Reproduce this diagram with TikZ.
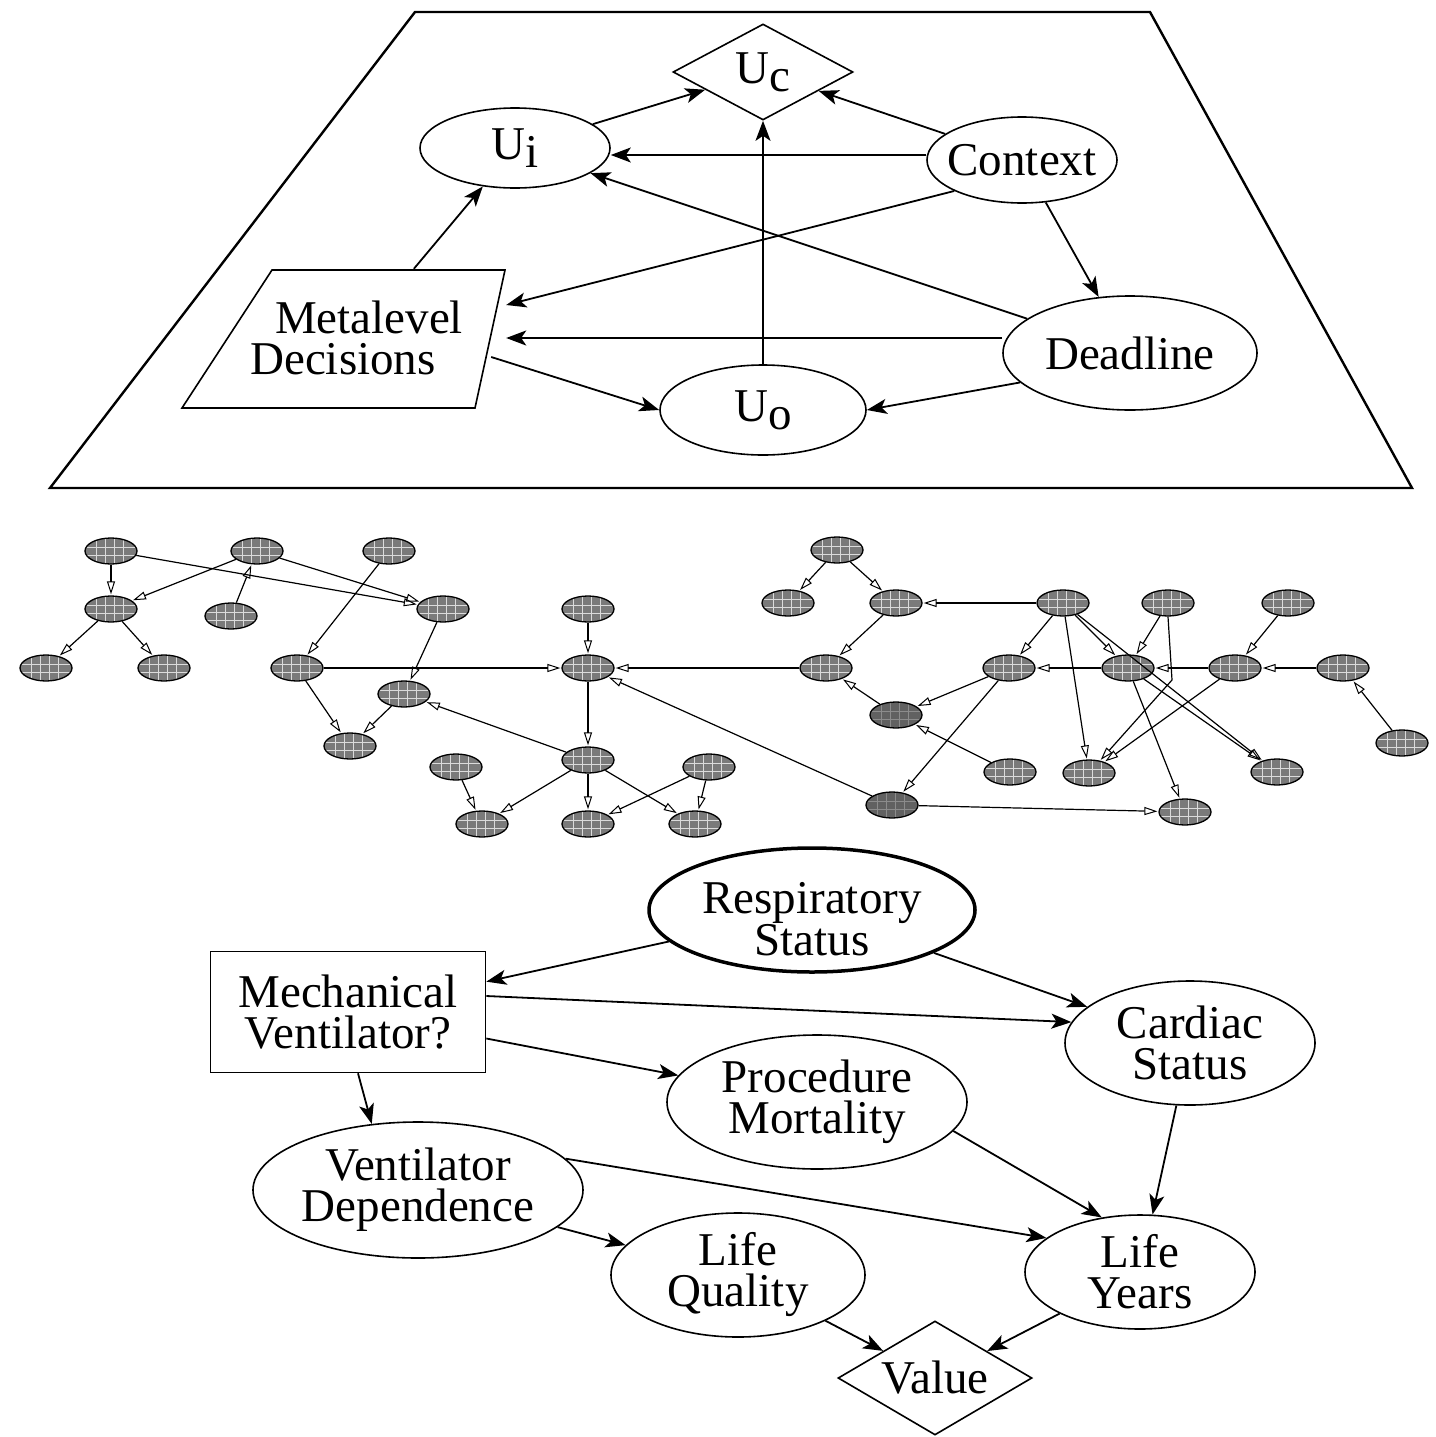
\documentclass[tikz,border=0pt]{standalone}
\usepackage{fontspec}
\setmainfont{Liberation Serif}
\usetikzlibrary{shapes.geometric,arrows.meta,calc}
\tikzset{
  lbl/.style={font=\fontsize{47}{41}\selectfont, align=center, inner sep=0pt},
  ell/.style={lbl, ellipse, draw, line width=1.6pt},
  dia/.style={lbl, diamond, draw, line width=1.6pt, aspect=1.9},
  conn/.style={line width=1.8pt, -{Stealth[length=20pt,width=15pt,inset=5pt]}},
  gridlines/.style={white!72!gray, line width=0.7pt},
  bn/.style={ellipse, draw=black, line width=1.3pt, fill=black!52, minimum width=52pt, minimum height=26pt, inner sep=0pt,
    path picture={
      \foreach \d in {-15,-6,3,12}{\draw[gridlines] ([xshift=\d pt]path picture bounding box.north) -- ([xshift=\d pt]path picture bounding box.south);}
      \foreach \d in {-4,4}{\draw[gridlines] ([yshift=\d pt]path picture bounding box.west) -- ([yshift=\d pt]path picture bounding box.east);}
    }},
  bnd/.style={bn, fill=black!62, gridlines/.style={black!45, line width=0.7pt}},
  bconn/.style={line width=1.2pt, -{Triangle[open,length=13pt,width=8pt,line width=1pt]}, shorten >=1pt}
}
\newcommand{\lowr}[1]{\raisebox{-9pt}[\height][\depth]{#1}}
\begin{document}
\begin{tikzpicture}[x=1pt,y=-1pt]
\useasboundingbox (0,0) rectangle (1435,1437);

% ---------- top panel ----------
\draw[line width=2.4pt] (415,12) -- (1150,12) -- (1412,488) -- (50,488) -- cycle;

\node[dia, minimum width=180pt, minimum height=96pt] (uc) at (763,72) {U\raisebox{-8pt}{c}};
\node[ell, minimum width=190pt, minimum height=80pt] (ui) at (515,148) {U\raisebox{-8pt}{i}};
\node[ell, inner xsep=-10pt, minimum width=190pt, minimum height=86pt] (context) at (1022,160) {Context};
\node[ell, minimum width=254pt, minimum height=114pt] (deadline) at (1130,353) {Deadline};
\node[ell, minimum width=206pt, minimum height=90pt] (uo) at (763,410) {U\raisebox{-8pt}{o}};
\node[lbl, minimum width=300pt, minimum height=138pt] (meta) at (356,338) {\hspace*{26pt}Metalevel\\Decisions\hspace*{26pt}};
\draw[line width=1.6pt] (272,270) -- (505,270) -- (475,408) -- (182,408) -- cycle;

\draw[conn] (ui) -- (uc);
\draw[conn] (context) -- (uc);
\draw[conn] ([yshift=5pt]context.west) -- ([yshift=-7pt]ui.east);
\draw[conn] (deadline) -- (ui);
\draw[conn] (context.south west) -- ([yshift=33pt]meta.east);
\draw[conn] (context) -- (deadline);
\draw[conn] ([yshift=15pt]deadline.west) -- (meta.east);
\draw[conn] (meta) -- (ui);
\draw[conn] ($(meta.east)+(-15,19)$) -- (uo.west);
\draw[conn] (deadline.195) -- (uo.east);
\draw[conn] (uo) -- (uc);

% ---------- middle network ----------
\node[bn] (a1) at (111,551) {};
\node[bn] (a2) at (257,551) {};
\node[bn] (a3) at (389,551) {};
\node[bn] (b1) at (111,609) {};
\node[bn] (b2) at (231,616) {};
\node[bn] (b3) at (443,609) {};
\node[bn] (c1) at (46,668) {};
\node[bn] (c2) at (164,668) {};
\node[bn] (c3) at (297,668) {};
\node[bn] (d1) at (404,694) {};
\node[bn] (e1) at (350,746) {};
\node[bn] (m0) at (588,609) {};
\node[bn] (m1) at (588,668) {};
\node[bn] (m2) at (588,760) {};
\node[bn] (l1) at (456,767) {};
\node[bn] (r1) at (709,767) {};
\node[bn] (bl) at (482,824) {};
\node[bn] (bm) at (588,824) {};
\node[bn] (br) at (695,824) {};
\node[bn] (n1) at (837,550) {};
\node[bn] (n2) at (788,603) {};
\node[bn] (n3) at (896,603) {};
\node[bn] (n4) at (1063,603) {};
\node[bn] (n5) at (1168,603) {};
\node[bn] (n6) at (1288,603) {};
\node[bn] (o1) at (826,668) {};
\node[bn] (o2) at (1009,668) {};
\node[bn] (o3) at (1128,668) {};
\node[bn] (o4) at (1235,668) {};
\node[bn] (o5) at (1343,668) {};
\node[bnd] (p1) at (896,715) {};
\node[bn] (p2) at (1010,772) {};
\node[bn] (p3) at (1089,773) {};
\node[bn] (p4) at (1277,772) {};
\node[bn] (p5) at (1402,743) {};
\node[bnd] (q1) at (892,805) {};
\node[bn] (q2) at (1185,812) {};
\coordinate (n5bend) at (1172,680);

\foreach \s/\t in {a1/b1, a1/b3, a2/b1, b2/a2, a2/b3, a3/c3, b1/c1, b1/c2, b3/d1, c3/m1, c3/e1, d1/e1, m2/d1, m0/m1, m1/m2, o1/m1, q1/m1, l1/bl, m2/bl, m2/bm, m2/br, r1/bm, r1/br,
  n1/n2, n1/n3, n4/n3, n3/o1, p1/o1, o2/p1, p2/p1, o2/q1, n4/o2, o3/o2, n4/p3, n4/o3, n4/p4, o3/p4, n5/o3, o3/q2, o4/o3, o4/p3, n6/o4, o5/o4, p5/o5, q1/q2}
  {\draw[bconn] (\s) -- (\t);}
\draw[bconn] (n5.south) -- (n5bend) -- (p3);

% ---------- bottom panel ----------
\node[ell, line width=3.5pt, minimum width=326pt, minimum height=124pt] (resp) at (812,910) {\lowr{Respiratory}\\\lowr{Status}};
\node[lbl, draw, line width=1.6pt, minimum width=275pt, minimum height=121pt] (mech) at (348,1012) {Mechanical\\Ventilator?};
\node[ell, minimum width=250pt, minimum height=124pt] (cardiac) at (1190,1043) {Cardiac\\Status};
\node[ell, minimum width=300pt, minimum height=134pt] (procmort) at (817,1102) {Procedure\\Mortality};
\node[ell, minimum width=330pt, minimum height=136pt] (ventdep) at (418,1190) {Ventilator\\Dependence};
\node[ell, minimum width=254pt, minimum height=124pt] (lifeq) at (738,1275) {Life\\Quality};
\node[ell, minimum width=230pt, minimum height=114pt] (lifey) at (1140,1272) {Life\\Years};
\node[dia, minimum width=194pt, minimum height=114pt] (value) at (935,1378) {Value};

\draw[conn] (resp) -- (mech);
\draw[conn] (resp) -- (cardiac);
\draw[conn] ([yshift=16pt]mech.east) -- (cardiac.170);
\draw[conn] (mech) -- (procmort);
\draw[conn] ([xshift=10pt]mech.south) -- (ventdep.125);
\draw[conn] (ventdep.12) -- (lifey.160);
\draw[conn] (procmort.-12) -- (lifey.125);
\draw[conn] (cardiac) -- (lifey);
\draw[conn] (ventdep) -- (lifeq);
\draw[conn] (lifeq) -- (value);
\draw[conn] (lifey) -- (value);
\end{tikzpicture}
\end{document}
